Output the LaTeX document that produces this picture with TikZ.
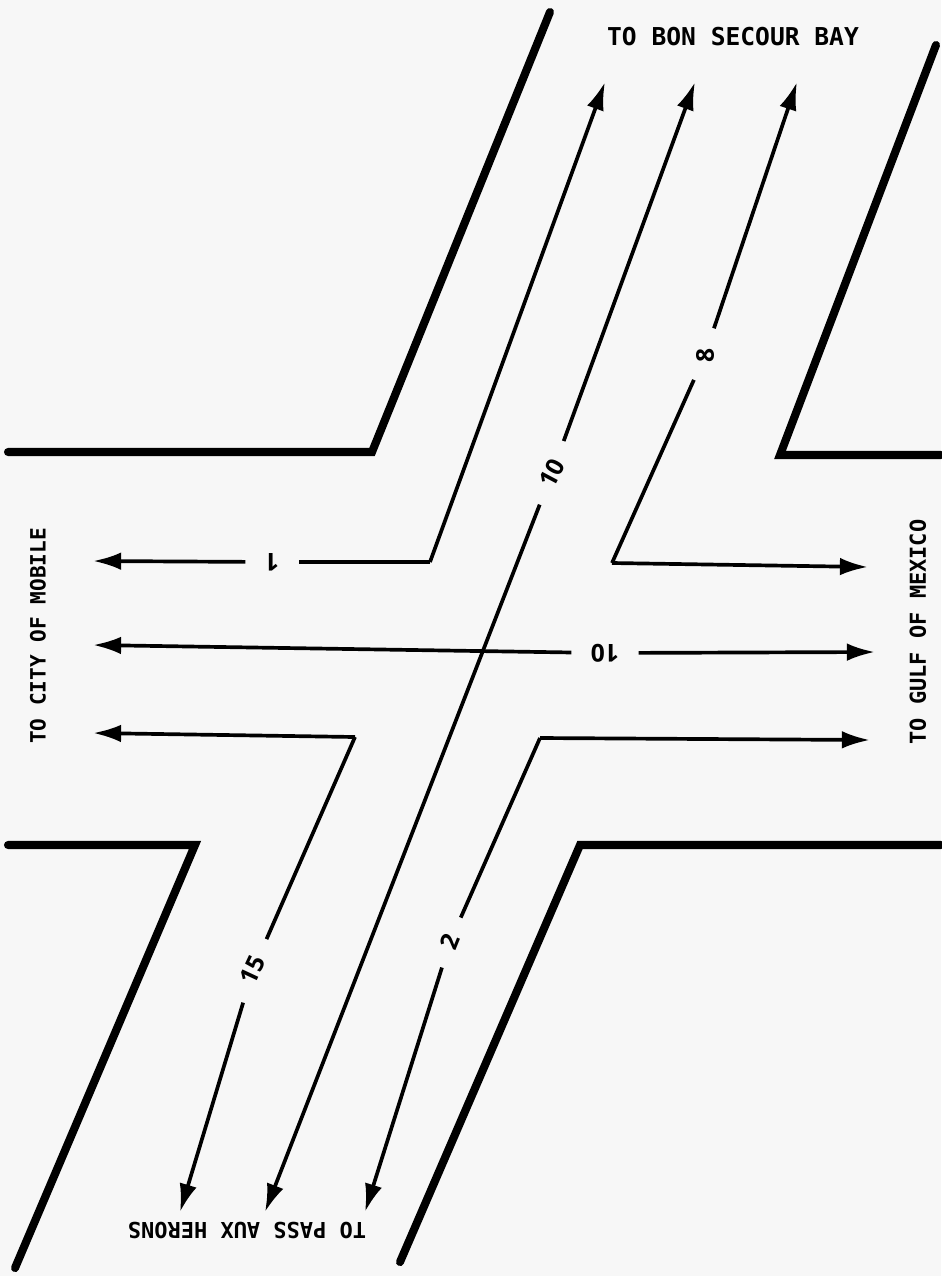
\documentclass[tikz,border=0pt]{standalone}
\usepackage{fontspec}
\usepackage{tikz}
\usetikzlibrary{arrows.meta}
\newfontfamily\roadfont{DejaVu Sans Mono}
\newfontfamily\numfont{Open Sans}
\definecolor{paper}{RGB}{247,247,247}

\begin{document}
\begin{tikzpicture}[x=0.02cm, y=-0.02cm,
    wall/.style={line width=4.6pt, line cap=round, line join=miter},
    flow/.style={line width=2.1pt},
    tip/.style={-{Latex[length=16pt,width=10pt]}},
    num/.style={font=\numfont\bfseries\fontsize{14}{14}\selectfont, inner xsep=11pt, inner ysep=1pt},
    dest/.style={font=\roadfont\bfseries\fontsize{12.5}{12.5}\selectfont, inner sep=0pt}]

    \fill[paper] (0,0) rectangle (941,1276);
    \useasboundingbox (0,0) rectangle (941,1276);

    % channel walls
    \draw[wall] (8,452) -- (372,452) -- (550,12);
    \draw[wall] (941,455) -- (780,455) -- (936,45);
    \draw[wall] (8,845) -- (195,845) -- (15,1268);
    \draw[wall] (941,845) -- (580,845) -- (400,1262);

    % end points of the flows
    \coordinate (up1) at (605,82);
    \coordinate (up10) at (695,82);
    \coordinate (up8) at (797,82);
    \coordinate (lf1) at (93,561);
    \coordinate (lf10) at (93,645);
    \coordinate (lf15) at (93,733);
    \coordinate (rt8) at (868,567);
    \coordinate (rt10) at (875,652);
    \coordinate (rt2) at (870,740);
    \coordinate (dn15) at (180,1212);
    \coordinate (dn10) at (265,1212);
    \coordinate (dn2) at (365,1212);

    % bends
    \coordinate (b1) at (430,562);
    \coordinate (b8) at (612,563);
    \coordinate (b15) at (355,737);
    \coordinate (b2) at (540,738);

    % flow labels
    \node[num, rotate=180] (n1) at (272,562) {1};
    \node[num, rotate=180] (n10h) at (605,653) {10};
    \node[num, rotate=62] (n10d) at (552,473) {10};
    \node[num, rotate=90] (n8) at (705,355) {8};
    \node[num, rotate=65] (n15) at (253,970) {15};
    \node[num, rotate=68] (n2) at (450,942) {2};

    % flows
    \draw[flow, tip] (b1) -- (up1);
    \draw[flow] (b1) -- (n1);
    \draw[flow, tip] (n1) -- (lf1);

    \draw[flow, tip] (n10h) -- (lf10);
    \draw[flow, tip] (n10h) -- (rt10);

    \draw[flow, tip] (n10d) -- (up10);
    \draw[flow, tip] (n10d) -- (dn10);

    \draw[flow, tip] (n8) -- (up8);
    \draw[flow] (n8) -- (b8);
    \draw[flow, tip] (b8) -- (rt8);

    \draw[flow, tip] (b15) -- (lf15);
    \draw[flow] (b15) -- (n15);
    \draw[flow, tip] (n15) -- (dn15);

    \draw[flow, tip] (b2) -- (rt2);
    \draw[flow] (b2) -- (n2);
    \draw[flow, tip] (n2) -- (dn2);

    % destinations
    \node[dest, font=\roadfont\bfseries\fontsize{14}{14}\selectfont] (bay) at (733,37) {TO BON SECOUR BAY};
    \node[dest, rotate=90, font=\roadfont\bfseries\fontsize{12}{12}\selectfont] (mob) at (38,636) {TO CITY OF MOBILE};
    \node[dest, rotate=90] (gulf) at (918,632) {TO GULF OF MEXICO};
    \node[dest, rotate=180] (pass) at (247,1230) {TO PASS AUX HERONS};
\end{tikzpicture}
\end{document}
